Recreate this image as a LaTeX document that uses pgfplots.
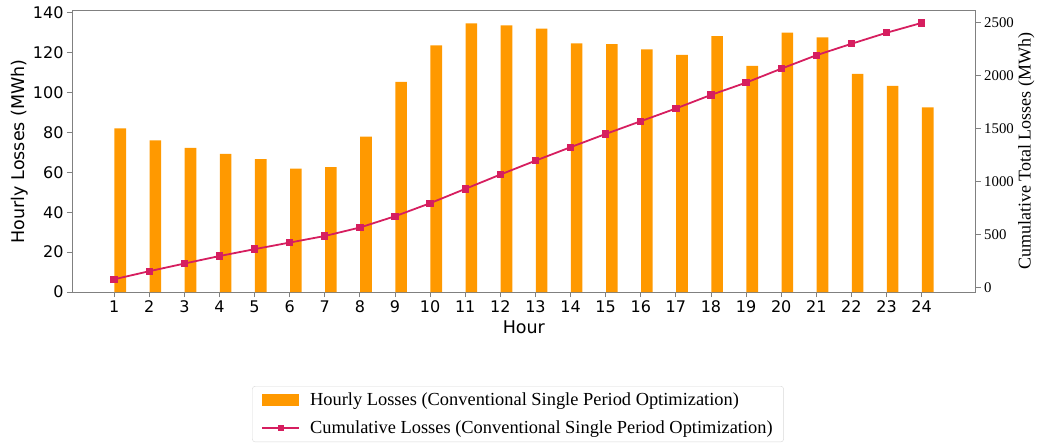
\documentclass[border=0pt]{standalone}
\usepackage{fontspec}
\setmainfont{DejaVu Sans}
\newfontfamily\seriffont{Liberation Serif}
\usepackage{pgfplots}
\usepackage{pgfplotstable}
\pgfplotsset{compat=1.18}
\definecolor{barorange}{RGB}{255,153,0}
\definecolor{linecol}{RGB}{214,30,95}
\definecolor{spine}{RGB}{128,128,128}
\pgfplotsset{
  mylineleg/.style={legend image code/.code={\draw[sharp corners, mark repeat=2,mark phase=2,##1, mark size=2.2pt] plot coordinates {(0pt,0pt) (18.5pt,0pt) (37pt,0pt)};\path[draw=none] (0pt,0pt) -- (46pt,0pt);}},
  mybarleg/.style={legend image code/.code={\fill[barorange, draw=none, sharp corners] (0pt,-6pt) rectangle (37pt,6pt);\path[draw=none] (0pt,0pt) -- (46pt,0pt);}},
}

\pgfplotstableread{
hour hourly cum
1 82.0 80
2 76.0 156
3 72.2 228
4 69.2 299
5 66.6 364
6 61.9 426
7 62.6 488
8 77.9 568
9 105.3 674
10 123.6 797
11 134.6 932
12 133.6 1067
13 132.0 1198
14 124.6 1325
15 124.3 1450
16 121.6 1570
17 118.9 1690
18 128.3 1818
19 113.3 1934
20 130.0 2065
21 127.6 2192
22 109.3 2300
23 103.3 2404
24 92.6 2497
}\datatable

\begin{document}
\begin{tikzpicture}
\useasboundingbox (0,0) rectangle (1038pt,445pt);
\begin{axis}[
  at={(72pt,153pt)}, anchor=south west,
  scale only axis, width=903.7pt, height=281.3pt,
  xmin=-0.2, xmax=25.54, ymin=0, ymax=141,
  enlargelimits=false,
  axis line style={spine, line width=0.8pt},
  xtick={1,...,24}, ytick={0,20,...,140},
  tick align=outside, tick pos=left,
  major tick length=5pt,
  every tick/.style={spine, line width=0.8pt},
  tick label style={font=\fontsize{16}{19}\selectfont},
  /pgf/number format/assume math mode=true,
  xlabel={Hour}, ylabel={Hourly Losses (MWh)},
  label style={font=\fontsize{17.5}{21}\selectfont},
  ylabel style={at={(axis description cs:-0.0531,0.5)}, anchor=base},
  xlabel style={at={(axis description cs:0.5,-0.1458)}, anchor=base},
]
\addplot[ybar, bar width=0.33, fill=barorange, draw=none]
  table[x expr=\thisrow{hour}+0.175, y=hourly]{\datatable};
\end{axis}
\begin{axis}[
  at={(72pt,153pt)}, anchor=south west,
  scale only axis, width=903.7pt, height=281.3pt,
  xmin=-0.2, xmax=25.54, ymin=-40, ymax=2612,
  enlargelimits=false,
  axis x line=none, axis y line*=right,
  axis line style={spine, line width=0.8pt},
  ytick={0,500,...,2500},
  tick align=outside, major tick length=5pt,
  every tick/.style={spine, line width=0.8pt},
  /pgf/number format/assume math mode=true,
  /pgf/number format/1000 sep={},
  yticklabel style={font=\seriffont\fontsize{14.8}{17}\selectfont},
  ylabel={Cumulative Total Losses (MWh)},
  ylabel style={font=\seriffont\fontsize{18}{21}\selectfont, at={(axis description cs:1.0609,0.5)}, anchor=base},
  legend style={at={(0.4935,-0.3342)}, anchor=north,
    font=\seriffont\fontsize{18.4}{21}\selectfont,
    draw=gray!30, rounded corners=3pt, row sep=10.2pt,
    inner xsep=9pt, inner ysep=4.5pt},
  legend cell align=left,
]
\addlegendimage{mybarleg}
\addlegendentry{Hourly Losses (Conventional Single Period Optimization)}
\addplot[linecol, line width=1.8pt, mark=square*, mark size=2.8pt,
  mark options={fill=linecol, solid}, mylineleg]
  table[x=hour, y=cum]{\datatable};
\addlegendentry{Cumulative Losses (Conventional Single Period Optimization)}
\end{axis}
\end{tikzpicture}
\end{document}
